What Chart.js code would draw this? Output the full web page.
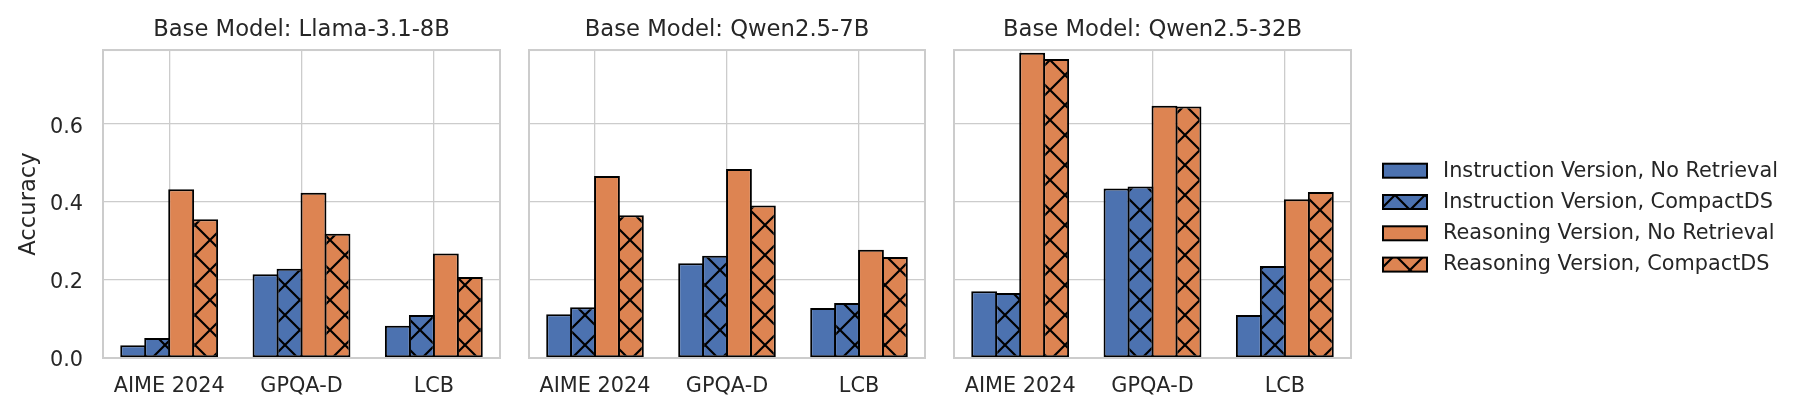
<!DOCTYPE html>
<html><head><meta charset="utf-8">
<script src="https://cdn.jsdelivr.net/npm/chart.js@4.4.1/dist/chart.umd.min.js"></script>
<style>
html,body{margin:0;padding:0;background:#fff;}
#wrap{position:relative;width:1808px;height:417px;background:#fff;}
#wrap canvas{position:absolute;left:0;top:0;}
</style></head><body>
<div id="wrap">
<canvas id="c1" width="1808" height="417"></canvas>
<canvas id="c2" width="1808" height="417"></canvas>
<canvas id="c3" width="1808" height="417"></canvas>
</div>
<script>
// ---- data ----
const categories = ['AIME 2024', 'GPQA-D', 'LCB'];
const panelTitles = ['Base Model: Llama-3.1-8B', 'Base Model: Qwen2.5-7B', 'Base Model: Qwen2.5-32B'];
const seriesLabels = ['Instruction Version, No Retrieval', 'Instruction Version, CompactDS',
                      'Reasoning Version, No Retrieval', 'Reasoning Version, CompactDS'];
const yLabel = 'Accuracy';
const yTicks = [0.0, 0.2, 0.4, 0.6];
const yMax = 0.79;

const llamaInstructNoRet   = [0.033, 0.215, 0.083];
const llamaInstructCompact = [0.051, 0.229, 0.110];
const llamaReasonNoRet     = [0.433, 0.424, 0.268];
const llamaReasonCompact   = [0.356, 0.319, 0.208];

const qwen7InstructNoRet   = [0.112, 0.243, 0.128];
const qwen7InstructCompact = [0.130, 0.262, 0.141];
const qwen7ReasonNoRet     = [0.467, 0.485, 0.278];
const qwen7ReasonCompact   = [0.366, 0.391, 0.259];

const qwen32InstructNoRet   = [0.171, 0.435, 0.110];
const qwen32InstructCompact = [0.167, 0.440, 0.236];
const qwen32ReasonNoRet     = [0.783, 0.647, 0.407];
const qwen32ReasonCompact   = [0.767, 0.645, 0.426];

const panels = [
  [llamaInstructNoRet, llamaInstructCompact, llamaReasonNoRet, llamaReasonCompact],
  [qwen7InstructNoRet, qwen7InstructCompact, qwen7ReasonNoRet, qwen7ReasonCompact],
  [qwen32InstructNoRet, qwen32InstructCompact, qwen32ReasonNoRet, qwen32ReasonCompact]
];

// ---- style / layout ----
const BLUE = '#4C72B0', ORANGE = '#DD8452', TEXT = '#262626', GRID = '#cccccc';
const FONT = "'DejaVu Sans', sans-serif";
const W = 1808, H = 417;
const plotLeft = [103, 529, 954];
const plotRight = [500, 925, 1351];
const plotBottom = 358;

function hatch(ctx, color) {
  const P = 30;
  const c = document.createElement('canvas');
  c.width = P; c.height = P;
  const g = c.getContext('2d');
  g.fillStyle = color; g.fillRect(0, 0, P, P);
  g.strokeStyle = '#000'; g.lineWidth = 2.2;
  g.beginPath();
  for (const o of [-P, 0, P]) {
    g.moveTo(o, 0); g.lineTo(o + P, P);
    g.moveTo(o, P); g.lineTo(o + P, 0);
  }
  g.stroke();
  return ctx.createPattern(c, 'repeat');
}

const framePlugin = {
  id: 'frame',
  afterDatasetsDraw(chart) {
    const a = chart.chartArea, ctx = chart.ctx;
    ctx.save();
    ctx.strokeStyle = GRID; ctx.lineWidth = 2;
    ctx.strokeRect(a.left, a.top, a.right - a.left, a.bottom - a.top);
    ctx.restore();
  }
};

const legendPlugin = {
  id: 'sideLegend',
  afterDraw(chart) {
    const ctx = chart.ctx;
    const x0 = 1383, w = 44, h = 14, textX = 1443, top = 170.7, step = 31.3;
    ctx.save();
    chart.data.datasets.forEach((ds, i) => {
      const cy = top + i * step;
      ctx.fillStyle = ds.backgroundColor;
      ctx.fillRect(x0, cy - h / 2, w, h);
      ctx.strokeStyle = '#000'; ctx.lineWidth = 2;
      ctx.strokeRect(x0, cy - h / 2, w, h);
      ctx.fillStyle = TEXT;
      ctx.font = '20.8px ' + FONT;
      ctx.textBaseline = 'middle';
      ctx.textAlign = 'left';
      ctx.fillText(ds.label, textX, cy + 0.5);
    });
    ctx.restore();
  }
};

function makeChart(id, idx) {
  const ctx = document.getElementById(id).getContext('2d');
  const fills = [BLUE, hatch(ctx, BLUE), ORANGE, hatch(ctx, ORANGE)];
  const datasets = panels[idx].map((vals, i) => ({
    label: seriesLabels[i],
    data: vals,
    backgroundColor: fills[i],
    borderColor: '#000',
    borderWidth: 2,
    borderSkipped: false,
    categoryPercentage: 0.725,
    barPercentage: 1.08
  }));
  const first = idx === 0;
  return new Chart(ctx, {
    type: 'bar',
    data: { labels: categories, datasets },
    plugins: idx === 2 ? [framePlugin, legendPlugin] : [framePlugin],
    options: {
      responsive: false,
      animation: false,
      devicePixelRatio: 1,
      events: [],
      layout: { padding: { left: 0, right: W - plotRight[idx], top: 0, bottom: 0 } },
      plugins: {
        legend: { display: false },
        tooltip: { enabled: false },
        title: {
          display: true, text: panelTitles[idx], fullSize: false, color: TEXT,
          font: { family: FONT, size: 22.7, weight: 'normal', lineHeight: 1.2 },
          padding: { top: 16, bottom: 6.8 }
        }
      },
      scales: {
        x: {
          type: 'category', offset: true,
          grid: { display: true, offset: false, color: GRID, lineWidth: 1.3, drawTicks: false },
          border: { display: false },
          ticks: { color: TEXT, font: { family: FONT, size: 20.8 }, padding: 16, maxRotation: 0, autoSkip: false },
          afterFit(s) { s.height = H - plotBottom; }
        },
        y: {
          min: 0, max: yMax,
          afterBuildTicks(s) { s.ticks = yTicks.map(v => ({ value: v })); },
          afterFit(s) { s.width = plotLeft[idx]; },
          grid: { color: GRID, lineWidth: 1.3, drawTicks: false },
          border: { display: false },
          ticks: {
            display: first, color: TEXT, padding: 20, labelOffset: 3,
            font: { family: FONT, size: 20.8 },
            callback: v => Number(v).toFixed(1)
          },
          title: {
            display: first, text: yLabel, color: TEXT,
            font: { family: FONT, size: 22.7, lineHeight: 1.2 },
            padding: { top: 15, bottom: 0 }
          }
        }
      }
    }
  });
}

makeChart('c1', 0);
makeChart('c2', 1);
makeChart('c3', 2);
</script>
</body></html>
